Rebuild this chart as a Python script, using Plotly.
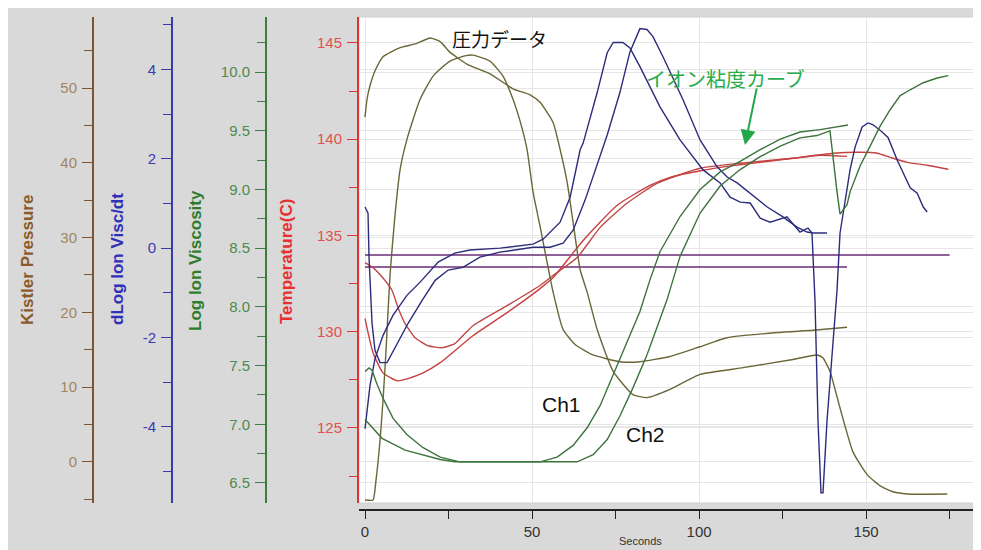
import plotly.graph_objects as go

# ---------------- data ----------------
# Kistler pressure (two channels)
p1_x = [0, 0.6, 1.5, 3.0, 5.4, 10.5, 15.0, 19.5, 22.5, 25.4, 30.5, 37.4, 44.3, 49.4, 52.4, 56.3, 58.4, 60.5,
        62.3, 64.4, 66.5, 69.5, 74.3, 80.2, 84.4, 91.3, 100.3, 113.2, 128.1, 135.3, 137.1, 139.2, 142.2,
        146.1, 150.3, 154.2, 158.1, 162.3, 174.3]
p1_y = [46.1, 48.5, 50.3, 52.3, 54.2, 55.4, 55.9, 56.7, 56.2, 54.8, 53.2, 51.9, 49.9, 49.1, 48.1, 45.4, 41.8, 37.4,
        32.0, 25.7, 22.7, 17.7, 12.1, 9.0, 8.6, 9.7, 11.7, 12.6, 13.7, 14.3, 13.9, 12.1, 7.2,
        1.3, -1.7, -3.2, -4.0, -4.3, -4.3]
p2_x = [0, 2.4, 3.3, 4.5, 5.4, 6.3, 7.5, 9.0, 10.5, 12.6, 16.5, 20.4, 25.4, 29.9, 32.3, 37.4, 41.3, 44.3, 46.4,
        48.5, 50.3, 52.4, 54.5, 56.3, 59.3, 62.9, 68.3, 76.3, 82.3, 91.3, 100.3, 108.4, 123.4, 134.1, 144.3]
p2_y = [-5.1, -5.1, -2.4, 2.9, 8.3, 15.0, 25.1, 33.1, 39.1, 43.2, 48.5, 51.6, 53.6, 54.3, 54.4, 53.6, 51.6, 48.5, 45.6,
        41.8, 36.1, 31.5, 26.7, 22.7, 17.7, 15.7, 14.3, 13.4, 13.4, 14.1, 15.4, 16.6, 17.3, 17.6, 18.0]

# Temperature (two channels)
t1_x = [0, 2.4, 6.0, 8.1, 9.9, 12.0, 15.0, 18.9, 23.1, 26.9, 29.9, 32.3, 42.5, 52.4, 56.3, 63.5, 70.4, 78.4,
        87.4, 100.3, 112.3, 128.1, 136.2, 144.3]
t1_y = [133.59, 133.33, 132.66, 132.14, 131.25, 130.42, 129.69, 129.27, 129.17, 129.38, 129.90, 130.31, 131.35,
        132.40, 132.92, 133.85, 135.42, 136.67, 137.71, 138.49, 138.75, 139.01, 139.17, 139.11]
t2_x = [0, 2.4, 5.4, 9.6, 12.6, 17.4, 22.5, 32.3, 42.5, 52.4, 56.3, 65.3, 75.4, 85.3, 91.3, 101.2, 108.4, 118.3,
        128.1, 140.1, 148.2, 153.3, 157.2, 162.3, 168.3, 174.6]
t2_y = [130.68, 128.91, 127.86, 127.45, 127.55, 127.86, 128.39, 129.79, 130.99, 132.24, 132.81, 134.74, 136.56,
        137.60, 138.02, 138.39, 138.59, 138.80, 139.01, 139.27, 139.32, 139.27, 139.06, 138.80, 138.65, 138.44]

# Set-point lines (temperature axis)
s1_x = [0, 175]
s1_y = [133.99, 133.99]
s2_x = [0, 144.3]
s2_y = [133.36, 133.36]

# Log ion viscosity (Ch1, Ch2)
v1_x = [0, 1.2, 2.1, 3.6, 5.4, 8.4, 12.6, 17.4, 22.5, 28.4, 52.4, 57.5, 62.3, 66.5, 70.4, 74.3, 78.4, 82.3,
        85.3, 88.3, 94.3, 100.3, 106.3, 112.3, 118.3, 124.3, 130.2, 136.2, 144.6]
v1_y = [7.45, 7.48, 7.46, 7.34, 7.22, 7.05, 6.91, 6.80, 6.72, 6.68, 6.68, 6.72, 6.82, 6.97, 7.16, 7.42, 7.70, 7.96,
        8.23, 8.47, 8.77, 9.00, 9.15, 9.24, 9.34, 9.43, 9.49, 9.51, 9.55]
v2_x = [0, 5.1, 12.0, 17.4, 22.5, 26.9, 63.5, 68.3, 72.5, 76.3, 80.2, 84.4, 88.3, 90.4, 94.3, 100.3, 106.3,
        112.3, 118.3, 124.3, 130.2, 135.3, 139.2, 140.1, 141.3, 142.2, 144.3, 145.2, 148.2, 151.2, 154.2,
        157.2, 160.2, 163.2, 167.1, 171.3, 174.6]
v2_y = [7.04, 6.88, 6.78, 6.74, 6.70, 6.68, 6.68, 6.74, 6.87, 7.07, 7.31, 7.59, 7.89, 8.06, 8.43, 8.80, 9.03,
        9.17, 9.28, 9.37, 9.44, 9.46, 9.50, 9.26, 8.98, 8.79, 8.87, 8.98, 9.20, 9.37, 9.54,
        9.68, 9.80, 9.85, 9.91, 9.95, 9.97]

# dLog ion viscosity / dt
d1_x = [0, 1.5, 3.0, 5.4, 8.4, 12.6, 16.5, 21.9, 26.9, 31.4, 40.4, 50.3, 53.3, 56.0, 58.4, 61.4, 64.4, 65.3,
        69.5, 72.5, 74.3, 77.2, 79.3, 82.3, 85.3, 88.3, 94.3, 101.2, 106.3, 109.3, 112.3, 115.3, 118.3, 121.3,
        126.3, 130.2, 132.6, 133.8, 134.7, 135.6, 136.5, 137.1, 138.3, 139.8, 141.3, 142.2, 143.1, 145.2,
        146.7, 148.8, 150.6, 152.1, 154.8, 156.6, 159.3, 161.1, 163.2, 165.3, 167.1, 168.3]
d1_y = [-4.04, -3.07, -2.47, -1.95, -1.50, -1.05, -0.76, -0.31, -0.11, -0.04, 0.0, 0.09, 0.20, 0.40, 0.58, 1.14,
        2.20, 2.35, 3.48, 4.37, 4.60, 4.60, 4.48, 4.06, 3.61, 3.16, 2.42, 1.75, 1.46, 1.14, 1.03, 1.01, 0.67,
        0.58, 0.70, 0.36, 0.45, 0.34, -1.17, -3.86, -5.47, -5.47, -3.86, -2.29, -0.94, 0.34, 0.78, 1.75,
        2.26, 2.71, 2.80, 2.76, 2.60, 2.47, 1.97, 1.68, 1.35, 1.23, 0.92, 0.81]
d2_x = [0, 0.9, 1.2, 2.1, 3.0, 4.5, 6.6, 9.0, 12.9, 17.1, 21.0, 24.9, 29.3, 34.4, 40.4, 50.3, 55.4, 59.3, 62.3,
        65.9, 68.9, 72.5, 76.3, 79.3, 82.3, 84.4, 86.2, 89.2, 95.2, 100.3, 105.4, 108.4, 111.4, 115.3, 120.4,
        125.1, 129.3, 132.3, 134.1, 138.3]
d2_y = [0.92, 0.78, -0.20, -1.68, -2.29, -2.56, -2.56, -2.22, -1.68, -1.17, -0.72, -0.49, -0.43, -0.20, -0.09,
        0.02, 0.02, 0.11, 0.40, 1.08, 1.75, 2.53, 3.48, 4.39, 4.91, 4.89, 4.73, 4.28, 3.32, 2.42, 1.82, 1.59,
        1.46, 1.23, 0.92, 0.70, 0.47, 0.36, 0.34, 0.34]

# axis ticks
x_ticks = [0, 50, 100, 150]
p_ticks = [0, 10, 20, 30, 40, 50]
d_ticks = [-4, -2, 0, 2, 4]
d_labels = ["-4", "-2", "0", "2", "4"]
v_ticks = [6.5, 7.0, 7.5, 8.0, 8.5, 9.0, 9.5, 10.0]
t_ticks = [125, 130, 135, 140, 145]

# ---------------- styling ----------------
# The page body has an 8px margin, so the figure starts at window pixel (8, 8).
OFF = 8
W, H = 981 - OFF, 550 - OFF
ML, MR, MT, MB = 0, 6, 9, 40
PW = W - ML - MR
PH = H - MT - MB


def px(xwin):
    return (xwin - OFF - ML) / PW


def py(ywin):
    return (H - MB - (ywin - OFF)) / PH


FONT = "Liberation Sans, Arial, sans-serif"
C_P, C_PT = "#7a5530", "#a3865f"
C_D, C_DT = "#3a3aa8", "#3a3ab0"
C_V, C_VT = "#3f7d3f", "#4f8a4f"
C_T, C_TT = "#e03434", "#e25050"
GRID = "#e6e6e6"

fig = go.Figure()


def add(x, y, axis, color, width=1.4, smooth=False):
    line = dict(color=color, width=width)
    if smooth:
        line.update(shape="spline", smoothing=0.5)
    fig.add_trace(go.Scatter(x=x, y=y, yaxis=axis, mode="lines", hoverinfo="skip", showlegend=False,
                             line=line))


add(s1_x, s1_y, "y", "#6a2d7a", 1.5)
add(s2_x, s2_y, "y", "#6a2d7a", 1.5)
add(p1_x, p1_y, "y2", "#6b6637", smooth=True)
add(p2_x, p2_y, "y2", "#6b6637", smooth=True)
add(v1_x, v1_y, "y4", "#3d733d")
add(v2_x, v2_y, "y4", "#3d733d")
add(t1_x, t1_y, "y", "#c14848", smooth=True)
add(t2_x, t2_y, "y", "#c84040", smooth=True)
add(d1_x, d1_y, "y3", "#2c2c7c")
add(d2_x, d2_y, "y3", "#2c2c7c")

ydom = [py(503), min(1.0, py(17))]
x0dom = px(359)

tickfont = lambda c: dict(family=FONT, size=15, color=c)

fig.update_layout(
    width=W, height=H,
    margin=dict(l=ML, r=MR, t=MT, b=MB),
    paper_bgcolor="#d9d9d9", plot_bgcolor="#d9d9d9",
    font=dict(family=FONT),
    showlegend=False,
    xaxis=dict(domain=[x0dom, 1], anchor="free", position=0, range=[-1.8, 182.6],
               tickvals=x_ticks, ticks="outside", ticklen=8, tickcolor="#222", tickwidth=1.3,
               showline=True, linecolor="#222", linewidth=1.5,
               showgrid=True, gridcolor=GRID, zeroline=False, tickfont=tickfont("#333"),
               minor=dict(dtick=25, tick0=0, ticks="outside", ticklen=8, tickcolor="#222", tickwidth=1.3,
                          showgrid=False)),
    yaxis=dict(domain=ydom, anchor="x", side="left", range=[121.1, 146.35], tickvals=t_ticks,
               ticks="outside", ticklen=10, tickcolor=C_T, tickwidth=1.3, ticklabelstandoff=2,
               showline=True, linecolor=C_T, linewidth=2, tickfont=tickfont(C_TT),
               showgrid=True, gridcolor=GRID, zeroline=False,
               minor=dict(dtick=2.5, tick0=0, ticks="outside", ticklen=8, tickcolor=C_T, showgrid=False)),
    yaxis2=dict(domain=ydom, anchor="free", position=px(93), overlaying="y", side="left",
                range=[-5.5, 59.5], tickvals=p_ticks, ticks="outside", ticklen=10, tickcolor=C_P, tickwidth=1.3,
                ticklabelstandoff=2,
                showline=True, linecolor=C_P, linewidth=2, tickfont=tickfont(C_PT),
                showgrid=True, gridcolor=GRID, zeroline=False,
                minor=dict(dtick=5, tick0=0, ticks="outside", ticklen=8, tickcolor=C_P, showgrid=False)),
    yaxis3=dict(domain=ydom, anchor="free", position=px(172), overlaying="y", side="left",
                range=[-5.70, 5.17], tickvals=d_ticks, ticktext=d_labels, ticks="outside", ticklen=10,
                tickcolor=C_D, tickwidth=1.3, ticklabelstandoff=2,
                showline=True, linecolor=C_D, linewidth=2, tickfont=tickfont(C_DT),
                showgrid=True, gridcolor=GRID, zeroline=False,
                minor=dict(dtick=1, tick0=0, ticks="outside", ticklen=8, tickcolor=C_D, showgrid=False)),
    yaxis4=dict(domain=ydom, anchor="free", position=px(266), overlaying="y", side="left",
                range=[6.329, 10.47], tickvals=v_ticks, tickformat=".1f", ticks="outside", ticklen=10,
                tickcolor=C_V, tickwidth=1.3, ticklabelstandoff=2,
                showline=True, linecolor=C_V, linewidth=2, tickfont=tickfont(C_VT),
                showgrid=True, gridcolor=GRID, zeroline=False,
                minor=dict(dtick=0.25, tick0=0, ticks="outside", ticklen=8, tickcolor=C_V, showgrid=False)),
)

shapes = [
    dict(type="rect", xref="paper", yref="paper", x0=x0dom, x1=1, y0=ydom[0], y1=ydom[1],
         fillcolor="white", line=dict(color="#cfcfcf", width=1), layer="below"),
]
fig.update_layout(shapes=shapes)

ann = []


def title(text, xwin, ywin, color):
    ann.append(dict(text="<b>%s</b>" % text, xref="paper", yref="paper", x=px(xwin), y=py(ywin),
                    textangle=-90, showarrow=False, xanchor="center", yanchor="middle",
                    font=dict(family=FONT, size=17, color=color)))


title("Kistler Pressure", 27, 260, "#8a5a2a")
title("dLog Ion Visc/dt", 117, 259, "#3030b8")
title("Log Ion Viscosity", 195, 261, "#2e7d2e")
title("Temperature(C)", 286, 262, "#e83030")

CJK = "Noto Sans CJK JP"
ann.append(dict(text="圧力データ", xref="paper", yref="paper", x=px(499), y=py(23), showarrow=False,
                font=dict(family=CJK, size=19, color="#111")))
ann.append(dict(text="イオン粘度カーブ", xref="paper", yref="paper", x=px(807), y=py(62), showarrow=False,
                font=dict(family=CJK, size=20, color="#2aab4c")))
ann.append(dict(text="", xref="paper", yref="paper", x=px(745), y=py(145), ax=12, ay=-58,
                showarrow=True, arrowhead=2, arrowsize=1.5, arrowwidth=2, arrowcolor="#22a84a"))
ann.append(dict(text="Ch1", xref="paper", yref="paper", x=px(561), y=py(418), showarrow=False,
                font=dict(family=FONT, size=21, color="#111")))
ann.append(dict(text="Ch2", xref="paper", yref="paper", x=px(645), y=py(448), showarrow=False,
                font=dict(family=FONT, size=21, color="#111")))
ann.append(dict(text="Seconds", xref="paper", yref="paper", x=px(640), y=py(549), showarrow=False,
                yanchor="bottom", font=dict(family=FONT, size=11, color="#333")))
fig.update_layout(annotations=ann)

fig.write_html("out.html")
